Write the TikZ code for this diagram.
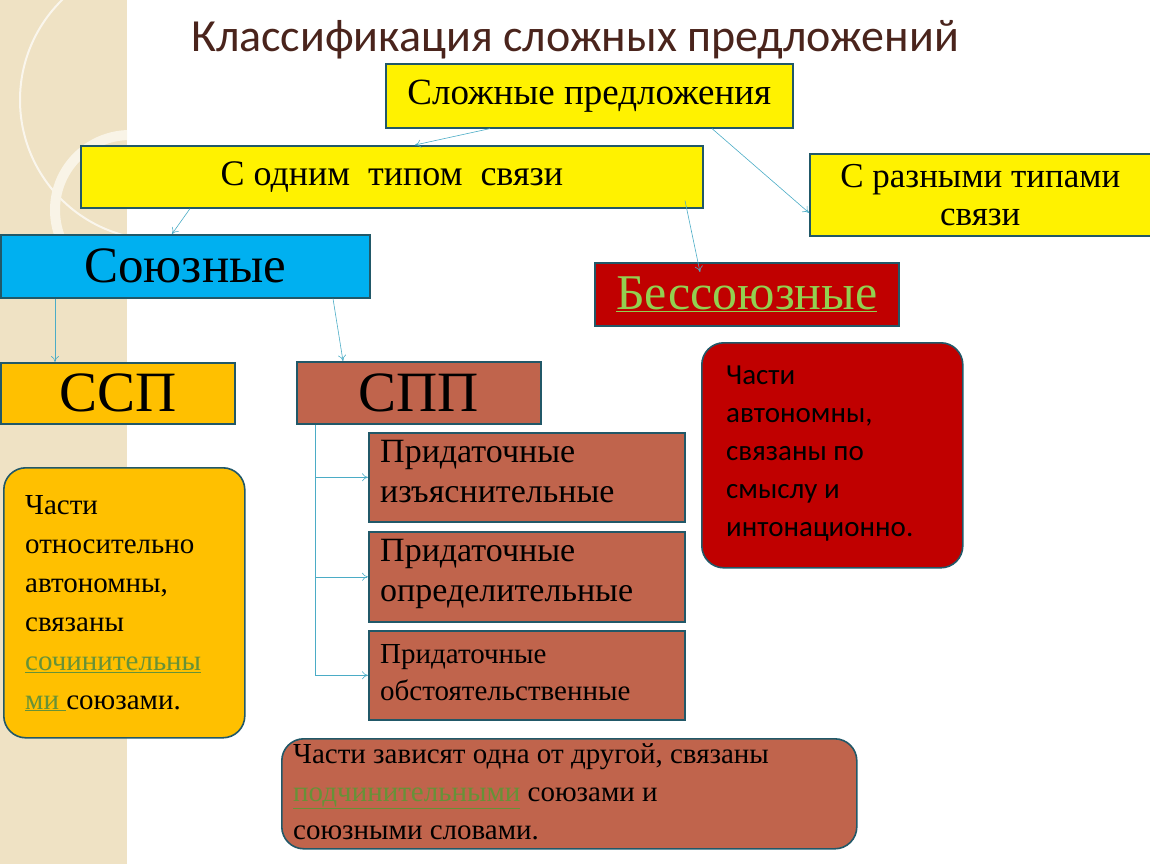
\documentclass[tikz,border=0pt]{standalone}
\usepackage{fontspec}
\setmainfont{Liberation Serif}
\newfontfamily\calib{Carlito}
\usetikzlibrary{positioning,arrows.meta}
\definecolor{edge}{HTML}{215868}
\definecolor{brick}{HTML}{C0644C}
\definecolor{wine}{HTML}{C00000}
\definecolor{amber}{HTML}{FFC000}
\definecolor{sky}{HTML}{00B0F0}
\definecolor{lime}{HTML}{92D050}
\definecolor{titlecol}{HTML}{4A241C}
\definecolor{beige}{HTML}{EFE2C4}
\definecolor{wire}{HTML}{4BACC6}
\begin{document}
\begin{tikzpicture}[x=1pt,y=-1pt]
    % Styles
    \tikzset{
        box/.style={draw=edge,line width=1.6pt,anchor=north west,inner sep=0pt,align=center},
        rbox/.style={box,rounded corners=22pt},
        note/.style={anchor=north west,align=left,inner sep=0pt},
        link/.style={draw=wire,line width=0.6pt,-{To[length=6pt,width=8pt]}}
    }
    \useasboundingbox (0,0) rectangle (1150,864);
    % Background strip
    \fill[beige] (0,0) rectangle (127,864);
    \begin{scope}
        \clip (0,0) rectangle (127,864);
        \draw[white!70!beige,line width=2pt] (160,100) circle (140);
        \draw[white!60!beige,line width=10pt] (130,210) circle (75);
    \end{scope}
    % Title
    \node (title) at (575,40) [font=\calib\fontsize{46}{50}\selectfont,text=titlecol]{Классификация сложных предложений};
    % Top level
    \node (complex) at (385,63) [box,fill=yellow,minimum width=407pt,minimum height=64pt,font=\fontsize{37}{40}\selectfont]{Сложные предложения};
    \node (onetype) at (80,145) [box,fill=yellow,minimum width=622pt,minimum height=62pt,font=\fontsize{36}{40}\selectfont]{С одним \ типом \ связи};
    \node (multitype) at (809,153) [box,fill=yellow,minimum width=341pt,minimum height=82pt,font=\fontsize{35}{38}\selectfont]{С разными типами\\связи};
    % Second level
    \node (conj) at (0,234) [box,fill=sky,minimum width=369pt,minimum height=63pt,font=\fontsize{51}{54}\selectfont]{Союзные};
    \node (nonconj) at (594,262) [box,fill=wine,minimum width=304pt,minimum height=63pt,font=\fontsize{50}{54}\selectfont,text=lime]{\underline{Бессоюзные}};
    % Third level
    \node (ssp) at (0,362) [box,fill=amber,minimum width=234pt,minimum height=61pt,font=\fontsize{57}{60}\selectfont]{ССП};
    \node (spp) at (296,361) [box,fill=brick,minimum width=244pt,minimum height=62pt,font=\fontsize{57}{60}\selectfont]{СПП};
    \node (expl) at (368,432) [box,fill=brick,minimum width=316pt,minimum height=89pt]{};
    \node at ([xshift=12pt,yshift=-8pt]expl.north west) [note,font=\fontsize{34}{40}\selectfont]{Придаточные\\изъяснительные};
    \node (attr) at (368,531) [box,fill=brick,minimum width=316pt,minimum height=90pt]{};
    \node at ([xshift=12pt,yshift=-8pt]attr.north west) [note,font=\fontsize{34}{40}\selectfont]{Придаточные\\определительные};
    \node (adv) at (368,630) [box,fill=brick,minimum width=316pt,minimum height=89pt]{};
    \node at ([xshift=12pt,yshift=-14pt]adv.north west) [note,font=\fontsize{29}{37}\selectfont]{Придаточные\\обстоятельственные};
    % Descriptions
    \node (sspnote) at (3,467) [rbox,fill=amber,minimum width=241pt,minimum height=270pt]{};
    \node at ([xshift=22pt,yshift=-28pt]sspnote.north west) [note,font=\fontsize{29}{39}\selectfont]{Части\\относительно\\автономны,\\связаны\\{\color{lime!70!black}\underline{сочинительны}}\\{\color{lime!70!black}\underline{ми }}союзами.};
    \node (bsnote) at (701,342) [rbox,fill=wine,minimum width=261pt,minimum height=225pt]{};
    \node at ([xshift=25pt,yshift=-24pt]bsnote.north west) [note,font=\calib\fontsize{29}{38}\selectfont]{Части\\автономны,\\связаны по\\смыслу и\\интонационно.};
    \node (sppnote) at (281,738) [rbox,fill=brick,minimum width=575pt,minimum height=110pt]{};
    \node at ([xshift=12pt,yshift=-5pt]sppnote.north west) [note,font=\fontsize{29}{38}\selectfont]{Части зависят одна от другой, связаны\\{\color{lime!70!black}\underline{подчинительными}} союзами и\\союзными словами.};
    % Connectors
    \draw[link] ([xshift=105pt]complex.south west) -- ([xshift=335pt]onetype.north west);
    \draw[link] ([xshift=327pt]complex.south west) -- ([yshift=-18pt]multitype.west);
    \draw[link] ([xshift=110pt]onetype.south west) -- ([xshift=172pt]conj.north west);
    \draw[link] ([xshift=605pt,yshift=8pt]onetype.south west) -- ([xshift=106pt,yshift=-10pt]nonconj.north west);
    \draw[link] ([xshift=55pt]conj.south west) -- ([xshift=55pt]ssp.north west);
    \draw[link] ([xshift=333pt]conj.south west) -- ([xshift=47pt]spp.north west);
    \coordinate (trunk) at ([xshift=19pt]spp.south west);
    \draw[wire,line width=0.6pt] (trunk) -- (trunk |- adv.west);
    \draw[link] (trunk |- expl.west) -- (expl.west);
    \draw[link] (trunk |- attr.west) -- (attr.west);
    \draw[link] (trunk |- adv.west) -- (adv.west);
\end{tikzpicture}
\end{document}
